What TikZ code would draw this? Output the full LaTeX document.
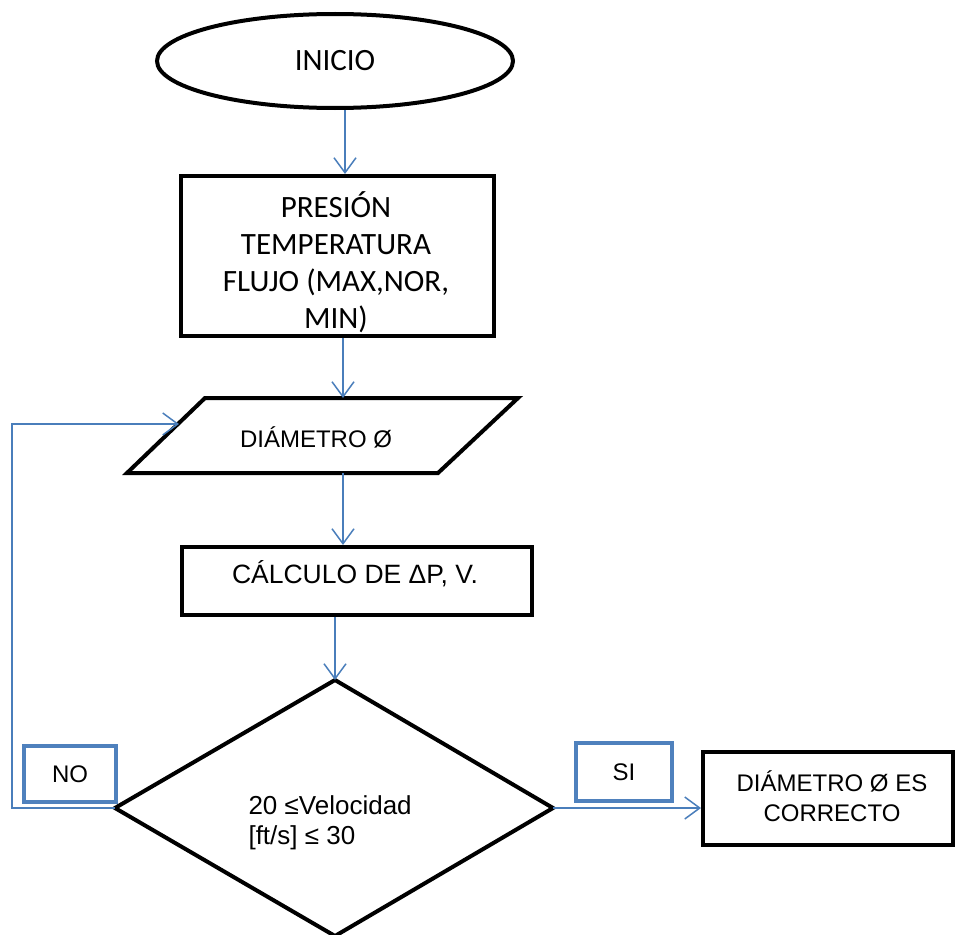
\documentclass[tikz,border=0pt]{standalone}
\usepackage{fontspec}
\setmainfont{Liberation Sans}
\newfontfamily\calibri{Carlito}
\usetikzlibrary{arrows.meta,shapes.geometric}
\definecolor{obl}{HTML}{4F81BD}
\definecolor{lnk}{HTML}{4A7EBB}
\begin{document}
\begin{tikzpicture}[x=1pt,y=-1pt,
  shapebox/.style={draw=black,line width=4pt,inner sep=0pt,line join=miter},
  conn/.style={draw=lnk,line width=1.5pt,-{Straight Barb[length=15pt,width=22pt,line width=1.5pt]}},
  labbox/.style={draw=obl,line width=4.5pt,inner sep=0pt},
  calfont/.style={font=\calibri\fontsize{31}{37}\selectfont,align=center},
  arfont/.style={font=\fontsize{26.5}{32}\selectfont,align=center},
  arsmall/.style={font=\fontsize{24}{30.5}\selectfont,align=center}
]
\useasboundingbox (0,0) rectangle (955,934);

% start
\node[shapebox,ellipse,minimum width=356,minimum height=94,calfont] (inicio) at (335,61) {INICIO};

% data box
\node[shapebox,minimum width=313,minimum height=160] (datos) at (337.5,256) {};
\node[calfont,inner sep=0pt] (datostxt) at (336,262) {PRESIÓN\\TEMPERATURA\\FLUJO (MAX,NOR,\\MIN)};

% parallelogram
\coordinate (pTL) at (205,398);
\coordinate (pTR) at (518,398);
\coordinate (pBR) at (438,473);
\coordinate (pBL) at (127,473);
\draw[line width=4pt,line join=miter] (pTL) -- (pTR) -- (pBR) -- (pBL) -- cycle;
\node[arsmall] (param) at (316,437) {DIÁMETRO Ø};
\coordinate (ptop) at (343,398);
\coordinate (pbot) at (343,473);
\coordinate (loopend) at (179,424);

% calculation box
\node[shapebox,minimum width=350,minimum height=68] (calc) at (357,581) {};
\node[arfont] (calctxt) at (355,574) {CÁLCULO DE ΔP, V.};

% decision diamond
\coordinate (dT) at (335,680);
\coordinate (dL) at (115,808);
\coordinate (dR) at (553,808);
\coordinate (dB) at (335,936);
\draw[line width=4pt,line join=miter] (dT) -- (dR) -- (dB) -- (dL) -- cycle;
\node[font=\fontsize{26}{30}\selectfont,align=left,anchor=west] (cond) at (245,823) {20 ≤Velocidad\\{}[ft/s] ≤ 30};

% end box
\node[shapebox,minimum width=250,minimum height=93] (fin) at (828,798.5) {};
\node[arsmall] (fintxt) at (832,796) {DIÁMETRO Ø ES\\CORRECTO};

% label boxes
\node[labbox,minimum width=92,minimum height=56,arsmall] (no) at (70,774) {NO};
\node[labbox,minimum width=96,minimum height=58,arsmall] (si) at (624,772) {SI};

\coordinate (loopx) at (12,424);

% connectors
\draw[conn] ([xshift=10pt]inicio.south) -- ([xshift=10pt]inicio.south |- datos.north);
\draw[conn] (datos.south -| ptop) -- (ptop);
\draw[conn] (pbot) -- (pbot |- calc.north);
\draw[conn] (calc.south -| dT) -- (dT);
\draw[conn] (dL) -| (loopx) -- (loopend);
\draw[conn] (dR) -- (dR -| fin.west);
\end{tikzpicture}
\end{document}
